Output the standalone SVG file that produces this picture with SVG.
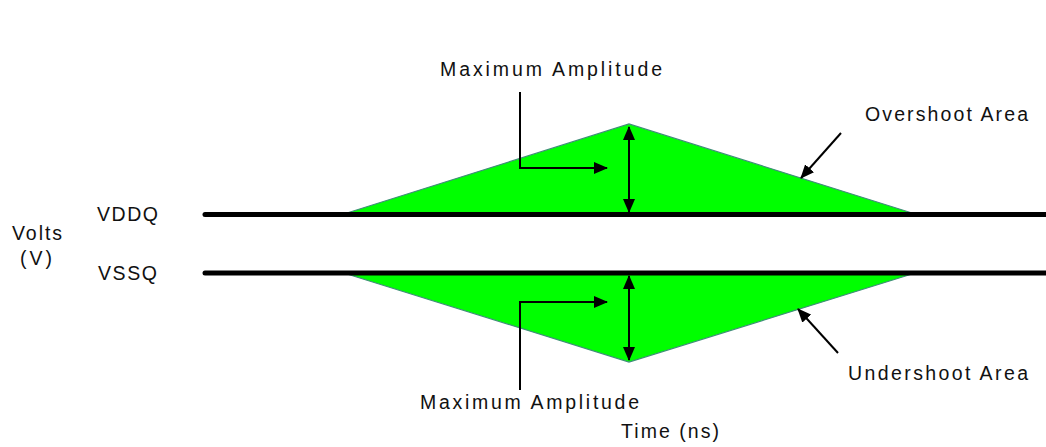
<svg xmlns="http://www.w3.org/2000/svg" width="1046" height="447" viewBox="0 0 1046 447">
<style>
text{font-family:"Liberation Sans",Arial,sans-serif;font-size:19.5px;fill:#111;}
.area{fill:#00ff00;stroke:#3f8f78;stroke-width:1.2;}
.rail{stroke:#000;stroke-width:5;stroke-linecap:round;fill:none;}
.ln{stroke:#000;stroke-width:2;fill:none;}
</style>
<defs>
<marker id="ah" viewBox="0 0 14 12" refX="13" refY="6" markerWidth="14" markerHeight="12" markerUnits="userSpaceOnUse" orient="auto-start-reverse">
<path d="M0,0 L14,6 L0,12 Z" fill="#000"/>
</marker>
</defs>
<rect width="1046" height="447" fill="#fff"/>
<g id="overshoot">
<polygon class="area" points="347,213 629,124 912,213"/>
</g>
<g id="undershoot">
<polygon class="area" points="347,274 629,362 912,274"/>
</g>
<g id="rails">
<line class="rail" x1="205" y1="214.5" x2="1050" y2="214.5"/>
<line class="rail" x1="205" y1="273" x2="1050" y2="273"/>
</g>
<g id="connectors">
<line class="ln" x1="629" y1="127" x2="629" y2="212" marker-start="url(#ah)" marker-end="url(#ah)"/>
<line class="ln" x1="629" y1="276" x2="629" y2="360" marker-start="url(#ah)" marker-end="url(#ah)"/>
<polyline class="ln" points="520,92 520,168 607,168" marker-end="url(#ah)"/>
<polyline class="ln" points="520,390 520,302 607,302" marker-end="url(#ah)"/>
<line class="ln" x1="841" y1="133" x2="801" y2="178" marker-end="url(#ah)"/>
<line class="ln" x1="838" y1="353" x2="798" y2="309" marker-end="url(#ah)"/>
</g>
<g id="labels">
<text x="440" y="76" textLength="222" lengthAdjust="spacing">Maximum Amplitude</text>
<text x="420" y="409" textLength="219" lengthAdjust="spacing">Maximum Amplitude</text>
<text x="865" y="121" textLength="163" lengthAdjust="spacing">Overshoot Area</text>
<text x="848" y="380" textLength="180" lengthAdjust="spacing">Undershoot Area</text>
<text x="621" y="438" textLength="98" lengthAdjust="spacing">Time (ns)</text>
<text x="97" y="221" textLength="61" lengthAdjust="spacing">VDDQ</text>
<text x="98" y="280" textLength="59" lengthAdjust="spacing">VSSQ</text>
<text x="12" y="240" textLength="50" lengthAdjust="spacing">Volts</text>
<text x="20" y="265" textLength="32" lengthAdjust="spacing">(V)</text>
</g>
</svg>
